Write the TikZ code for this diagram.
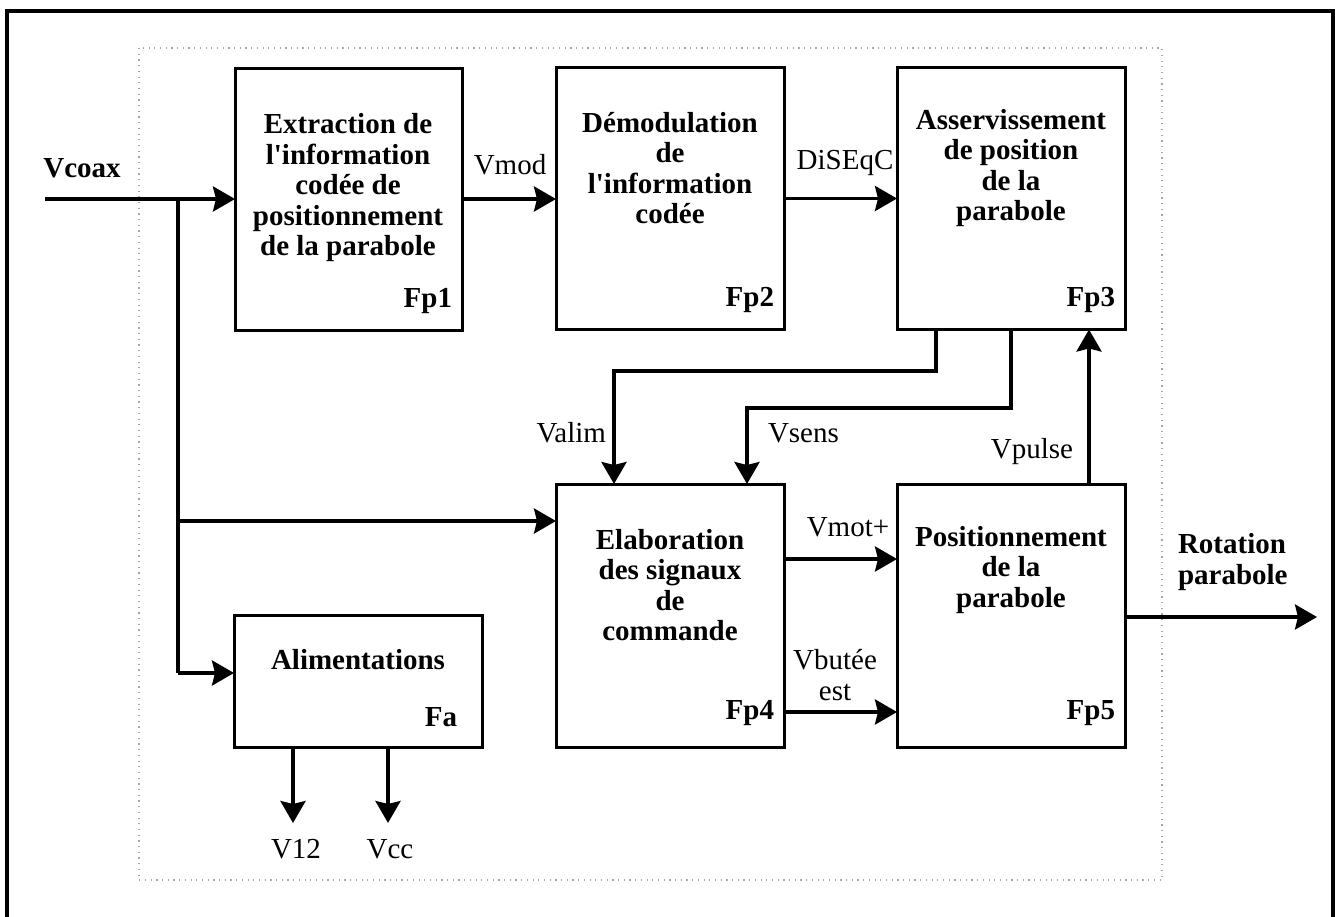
\documentclass[tikz,border=0pt]{standalone}
\usepackage{fontspec}
\setmainfont{Liberation Serif}[Ligatures=TeXOff]
\usetikzlibrary{arrows.meta,calc}
\begin{document}
\begin{tikzpicture}[x=1pt,y=-1pt,
  every node/.style={font=\fontsize{29}{30.5}\selectfont, inner sep=0pt, outer sep=0pt},
  blockbox/.style={draw, line width=3pt, inner sep=0pt, outer sep=0pt},
  title/.style={align=center, font=\fontsize{29}{30.5}\selectfont\bfseries},
  tag/.style={anchor=east, font=\fontsize{29}{30.5}\selectfont\bfseries},
  sig/.style={font=\fontsize{29}{30.5}\selectfont},
  wire/.style={line width=3.5pt},
  flow/.style={wire, -{Stealth[length=22pt, width=25pt, inset=3pt]}},
  frame/.style={line width=4pt},
  zone/.style={draw=black!35, line width=1.2pt, dash pattern=on 1.2pt off 4.5pt}
]
\useasboundingbox (0,0) rectangle (1338,916);
% outer frame and functional zone
\begin{scope}
  \clip (0,0) rectangle (1338,916);
  \draw[frame] (7,11) rectangle (1333,940);
\end{scope}
\draw[zone] (139,48) rectangle (1162,880);

% blocks
\node[blockbox, minimum width=227pt, minimum height=262pt] (fp1) at (348.5,199) {};
\node[blockbox, minimum width=228pt, minimum height=262pt] (fp2) at (670,198.5) {};
\node[blockbox, minimum width=228pt, minimum height=262pt] (fp3) at (1011,198.5) {};
\node[blockbox, minimum width=228pt, minimum height=263pt] (fp4) at (670,615.5) {};
\node[blockbox, minimum width=228pt, minimum height=263pt] (fp5) at (1011,615.5) {};
\node[blockbox, minimum width=248pt, minimum height=132pt] (fa) at (358,681) {};

% block titles
\node[title] (t1) at (348,188) {Extraction de\\l'information\\codée de\\positionnement\\de la parabole};
\node[title] (t2) at (670,168) {Démodulation\\de\\l'information\\codée};
\node[title] (t3) at (1011,168) {Asservissement\\de position\\de la\\parabole};
\node[title] (t4) at (670,585) {Elaboration\\des signaux\\de\\commande};
\node[title] (t5) at (1011,570) {Positionnement\\de la\\parabole};
\node[title] (ta) at (358,660) {Alimentations};

% block tags
\node[tag] (g1) at ($(fp1.south east)+(-10,-29)$) {Fp1};
\node[tag] (g2) at ($(fp2.south east)+(-10,-30)$) {Fp2};
\node[tag] (g3) at ($(fp3.south east)+(-10,-30)$) {Fp3};
\node[tag] (g4) at ($(fp4.south east)+(-10,-34)$) {Fp4};
\node[tag] (g5) at ($(fp5.south east)+(-10,-34)$) {Fp5};
\node[tag] (ga) at ($(fa.south east)+(-25,-30)$) {Fa};

% junction points and free ends
\coordinate (vin) at (45,199);
\coordinate (j1) at (178,199);
\coordinate (jb) at (178,521);
\coordinate (ja) at (178,673);
\coordinate (va1) at ($(fp3.south west)+(39,0)$);
\coordinate (va2) at (614,371);
\coordinate (vs1) at ($(fp3.south west)+(114,0)$);
\coordinate (vs2) at (747,408);
\coordinate (vp) at ($(fp5.north west)+(192,0)$);
\coordinate (rot) at (1317,617);
\coordinate (v12) at (293,823);
\coordinate (vcc) at (388,823);

% connectors
\draw[flow] (vin) -- (fp1.west);
\draw[wire] (j1) -- (ja);
\draw[flow] (jb) -- (jb -| fp4.west);
\draw[flow] (ja) -- (ja -| fa.west);
\draw[flow] (fp1.east) -- (fp1.east -| fp2.west);
\draw[flow] (fp2.east) -- (fp3.west);
\draw[flow] (va1) |- (va2) -- (va2 |- fp4.north);
\draw[flow] (vs1) |- (vs2) -- (vs2 |- fp4.north);
\draw[flow] (vp) -- (vp |- fp3.south);
\draw[flow] ($(fp4.north east)+(0,75)$) -- ($(fp5.north west)+(0,75)$);
\draw[flow] ($(fp4.north east)+(0,228)$) -- ($(fp5.north west)+(0,228)$);
\draw[flow] (rot -| fp5.east) -- (rot);
\draw[flow] (v12 |- fa.south) -- (v12);
\draw[flow] (vcc |- fa.south) -- (vcc);

% signal names
\node[sig, font=\fontsize{29}{30.5}\selectfont\bfseries] (lcoax) at (82,168) {Vcoax};
\node[sig] (lmod) at (510,165) {Vmod};
\node[sig] (ldiseqc) at (845,163) {DiSEqC};
\node[sig, anchor=east] (lalim) at (606,433) {Valim};
\node[sig, anchor=west] (lsens) at (768,433) {Vsens};
\node[sig] (lpulse) at (1032,452) {Vpulse};
\node[sig] (lmot) at (848,527) {Vmot+};
\node[sig, align=center] (lbut) at (835,675) {Vbutée\\est};
\node[sig, align=left, anchor=west, font=\fontsize{29}{30.5}\selectfont\bfseries] (lrot) at (1178,562) {Rotation\\parabole};
\node[sig] (l12) at (296,849) {V12};
\node[sig] (lcc) at (390,849) {Vcc};
\end{tikzpicture}
\end{document}
